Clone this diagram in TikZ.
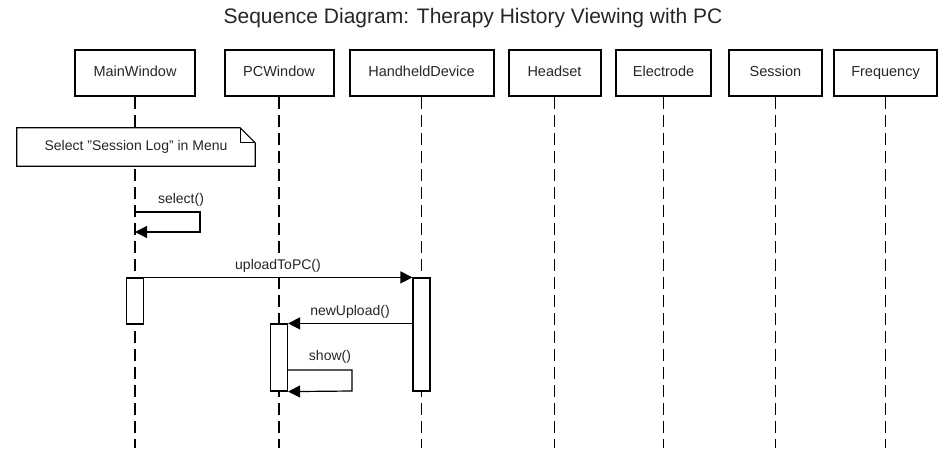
\documentclass[tikz,border=0pt]{standalone}
\usepackage{fontspec}
\setmainfont{Liberation Sans}
\usetikzlibrary{arrows.meta}
\begin{document}
\begin{tikzpicture}[x=1pt,y=-1pt,
  actor/.style={draw, line width=2pt, minimum height=46pt, inner sep=0pt, font=\fontsize{14.5}{16}\selectfont, text=black!85, text height=10.5pt, text depth=3pt},
  life/.style={dash pattern=on 12pt off 6pt, line width=1.3pt},
  act/.style={draw, fill=white, line width=1.2pt, minimum width=17pt, inner sep=0pt},
  msg/.style={line width=1.2pt, -{Triangle[length=12pt,width=12pt]}},
  lbl/.style={font=\fontsize{14}{16}\selectfont, inner sep=1pt, fill=white, text=black!85}
]
\useasboundingbox (0,0) rectangle (946,448);
\node[font=\fontsize{21}{24}\selectfont, text=black!85] (title) at (473,18) {Sequence Diagram: Therapy History Viewing with PC};

% actors
\node[actor, minimum width=120pt] (mw) at (135,73) {MainWindow};
\node[actor, minimum width=109pt] (pc) at (279,73) {PCWindow};
\node[actor, minimum width=144pt] (hd) at (421.5,73) {HandheldDevice};
\node[actor, minimum width=92pt] (hs) at (554.5,73) {Headset};
\node[actor, minimum width=95pt] (el) at (663.5,73) {Electrode};
\node[actor, minimum width=93pt] (se) at (775.5,73) {Session};
\node[actor, minimum width=103pt] (fr) at (885.5,73) {Frequency};

% lifeline ends
\coordinate (mwend) at (135,448);
\coordinate (pcend) at (279,448);
\coordinate (hdend) at (421.5,448);
\coordinate (hsend) at (554.5,448);
\coordinate (elend) at (663.5,448);
\coordinate (seend) at (775.5,448);
\coordinate (frend) at (885.5,448);
\draw[life] (mw) -- (mwend);
\draw[life] (pc) -- (pcend);
\draw[life] (hd) -- (hdend);
\draw[life] (hs) -- (hsend);
\draw[life] (el) -- (elend);
\draw[life] (se) -- (seend);
\draw[life] (fr) -- (frend);

% note
\node[minimum width=238pt, minimum height=38pt, inner sep=0pt] (note) at (136,147) {};
\draw[line width=1.2pt, fill=white] (note.south west) -- (note.north west) -- ([xshift=-15pt]note.north east) -- ([yshift=-15pt]note.north east) -- (note.south east) -- cycle;
\draw[line width=1.2pt] ([xshift=-15pt]note.north east) -- ([xshift=-15pt,yshift=-15pt]note.north east) -- ([yshift=-15pt]note.north east);
\node[font=\fontsize{14}{16}\selectfont, text=black!85, inner sep=0pt] (notetext) at (note.center) {Select "Session Log" in Menu};

% select() self message
\coordinate (s1) at (135,212);
\coordinate (s2) at (200,212);
\coordinate (s3) at (200,232);
\coordinate (s4) at (135,232);
\draw[msg] (s1) -- (s2) -- (s3) -- (s4);
\node[lbl] (selectlbl) at (181,200) {select()};

% activations
\node[act, minimum height=46pt] (a1) at (135,301) {};
\node[act, minimum height=113pt] (a3) at (421.5,334.5) {};
\node[act, minimum height=67pt] (a2) at (279,357.5) {};

% uploadToPC
\draw[msg] (a1.north east) -- (a3.north west);
\node[lbl] (uplbl) at (278,266) {uploadToPC()};

% newUpload
\draw[msg] (a3.west |- a2.north) -- (a2.north east);
\node[lbl] (nulbl) at (350,312) {newUpload()};

% show
\coordinate (h1) at (287.5,370);
\coordinate (h2) at (352,370);
\coordinate (h3) at (352,391);
\draw[msg] (h1) -- (h2) -- (h3) -- (a2.south east);
\node[lbl, fill=none] (showlbl) at (330,357) {show()};
\end{tikzpicture}
\end{document}
